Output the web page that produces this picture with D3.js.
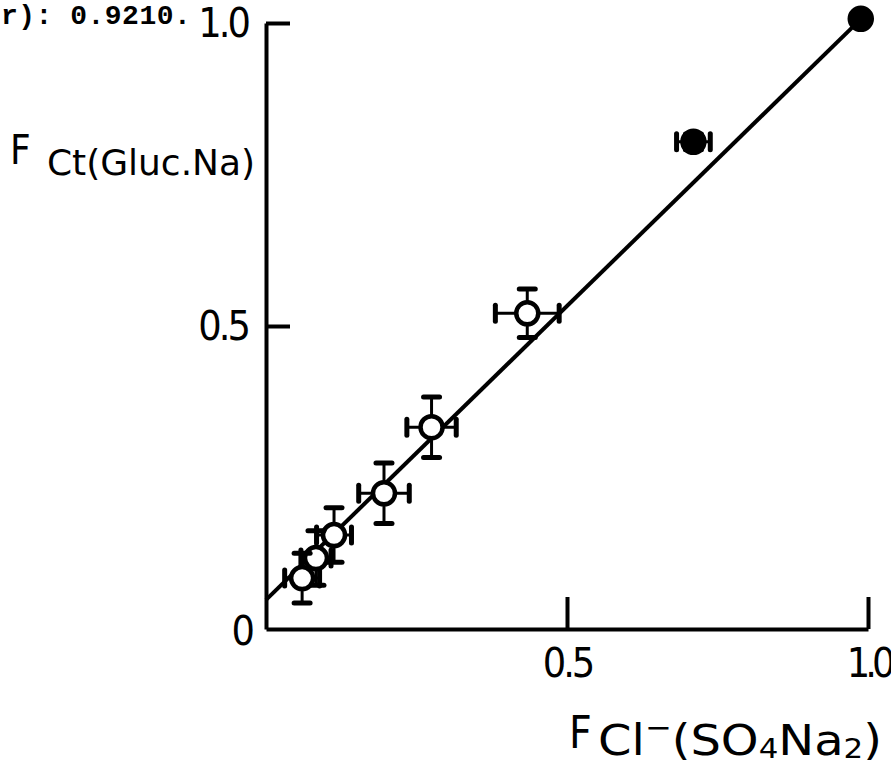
<!DOCTYPE html>
<html>
<head>
<meta charset="utf-8">
<script src="https://cdn.jsdelivr.net/npm/d3@7"></script>
<style>
  html, body { margin: 0; padding: 0; background: #fff; }
  svg { display: block; }
  .tick text { font-family: "DejaVu Sans Condensed", "DejaVu Sans", sans-serif; font-size: 41px; fill: #000; }
  .title { font-family: "DejaVu Sans Condensed", "DejaVu Sans", sans-serif; fill: #000; }
  .note { font-family: "Liberation Mono", "DejaVu Sans Mono", monospace; font-weight: bold; fill: #000; }
</style>
</head>
<body>
<svg id="chart" width="891" height="766"></svg>
<script>
// Fraction of chloride: sulphate-Na medium (x) vs gluconate-Na medium (y)
const xValues = [0.988, 0.710, 0.434, 0.275, 0.196, 0.113, 0.083, 0.060];
const yValues = [1.007, 0.804, 0.521, 0.333, 0.224, 0.155, 0.117, 0.084];
const xErrors = [0.000, 0.028, 0.053, 0.041, 0.042, 0.029, 0.025, 0.029];
const yErrors = [0.000, 0.013, 0.040, 0.050, 0.050, 0.045, 0.045, 0.041];
const filledPoints = [true, true, false, false, false, false, false, false];

// Least-squares fit line
const fitIntercept = 0.048;
const fitSlope = 0.97;
const fitRange = [0, 0.988];

const xTicks = [0.5, 1.0];
const xTickLabels = ["0.5", "1.0"];
const yTicks = [0, 0.5, 1.0];
const yTickLabels = ["0", "0.5", "1.0"];

const svg = d3.select("#chart");
const x = d3.scaleLinear().domain([0, 1]).range([266, 868]);
const y = d3.scaleLinear().domain([0, 1]).range([629, 23]);

// Axes with inward ticks
const xAxis = d3.axisBottom(x).tickValues(xTicks)
  .tickFormat((d, i) => xTickLabels[i]).tickSizeInner(-32).tickSizeOuter(0).tickPadding(19);
const yAxis = d3.axisLeft(y).tickValues(yTicks)
  .tickFormat((d, i) => yTickLabels[i]).tickSizeInner(-24).tickSizeOuter(0).tickPadding(18);

const gx = svg.append("g").attr("transform", `translate(0,${y(0)})`).call(xAxis);
const gy = svg.append("g").attr("transform", `translate(${x(0)},0)`).call(yAxis);
[gx, gy].forEach(g => {
  g.select(".domain").attr("stroke", "#000").attr("stroke-width", 4);
  g.selectAll(".tick line").attr("stroke", "#000").attr("stroke-width", 4);
  g.selectAll(".tick text").style("letter-spacing", "-3px");
});
gx.selectAll(".tick text").filter((d, i) => i === 1)
  .attr("text-anchor", "end").attr("x", 22).style("letter-spacing", "-5px");
gy.selectAll(".tick line").filter(d => d === 0).remove();
gy.selectAll(".tick text").filter(d => d === 0).attr("dy", "0.38em").attr("x", -14);

// Fit line
svg.append("line")
  .attr("x1", x(fitRange[0])).attr("y1", y(fitIntercept + fitSlope * fitRange[0]))
  .attr("x2", x(fitRange[1])).attr("y2", y(fitIntercept + fitSlope * fitRange[1]))
  .attr("stroke", "#000").attr("stroke-width", 4);

// Points with error bars
const pts = xValues.map((v, i) => ({ x: v, y: yValues[i], ex: xErrors[i], ey: yErrors[i], filled: filledPoints[i] }));
const gp = svg.append("g");
pts.forEach(p => {
  const g = gp.append("g");
  if (p.ex > 0) {
    g.append("line").attr("x1", x(p.x - p.ex)).attr("x2", x(p.x + p.ex))
      .attr("y1", y(p.y)).attr("y2", y(p.y)).attr("stroke", "#000").attr("stroke-width", 3);
    [p.x - p.ex, p.x + p.ex].forEach(v => g.append("line")
      .attr("x1", x(v)).attr("x2", x(v)).attr("y1", y(p.y) - 8).attr("y2", y(p.y) + 8)
      .attr("stroke", "#000").attr("stroke-width", 5).attr("stroke-linecap", "round"));
  }
  if (p.ey > 0) {
    g.append("line").attr("x1", x(p.x)).attr("x2", x(p.x))
      .attr("y1", y(p.y - p.ey)).attr("y2", y(p.y + p.ey)).attr("stroke", "#000").attr("stroke-width", 3);
    [p.y - p.ey, p.y + p.ey].forEach(v => g.append("line")
      .attr("x1", x(p.x) - 8).attr("x2", x(p.x) + 8).attr("y1", y(v)).attr("y2", y(v))
      .attr("stroke", "#000").attr("stroke-width", 5).attr("stroke-linecap", "round"));
  }
  g.append("circle").attr("cx", x(p.x)).attr("cy", y(p.y)).attr("r", 11)
    .attr("fill", p.filled ? "#000" : "#fff").attr("stroke", "#000").attr("stroke-width", 4.5);
});

// Y axis title
svg.append("text").attr("class", "title").attr("x", 10).attr("y", 164)
  .style("font-size", "40px").text("F");
svg.append("text").attr("class", "title").attr("x", 47).attr("y", 175)
  .style("font-size", "36px").attr("textLength", 208).attr("lengthAdjust", "spacingAndGlyphs")
  .text("Ct(Gluc.Na)");

// X axis title
svg.append("text").attr("class", "title").attr("x", 569).attr("y", 748)
  .style("font-size", "44px").text("F");
const xt = svg.append("text").attr("class", "title").attr("x", 598).attr("y", 755)
  .style("font-size", "42px");
xt.append("tspan").text("Cl");
xt.append("tspan").attr("dy", -18).style("font-size", "28px").text("\u2212");
xt.append("tspan").attr("dy", 18).text("(SO");
xt.append("tspan").attr("dy", 3).style("font-size", "27px").text("4");
xt.append("tspan").attr("dy", -3).text("Na");
xt.append("tspan").attr("dy", 3).style("font-size", "27px").text("2");
xt.append("tspan").attr("dy", -3).text(")");
const xtWidth = xt.node().getBBox().width;
const k = 284 / xtWidth;
xt.attr("transform", `translate(598,0) scale(${k},1) translate(-598,0)`);

// Correlation note
svg.append("text").attr("class", "note").attr("x", 1).attr("y", 24)
  .style("font-size", "28px").style("letter-spacing", "0.5px").text("r): 0.9210.");
</script>
</body>
</html>
